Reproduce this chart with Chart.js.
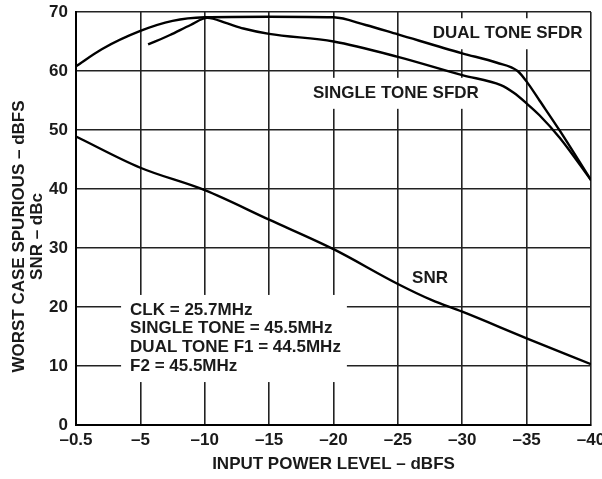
<!DOCTYPE html>
<html>
<head>
<meta charset="utf-8">
<script src="https://cdn.jsdelivr.net/npm/chart.js@4.4.1/dist/chart.umd.min.js"></script>
<style>
  html, body { margin: 0; padding: 0; background: #fff; }
  #wrap { width: 602px; height: 479px; }
</style>
</head>
<body>
<div id="wrap"><canvas id="myChart" width="602" height="479"></canvas></div>
<script>
// x is the input level in dBFS; the left edge of the plot is the -0.5 dBFS point
const xTickLabels = ["–0.5", "–5", "–10", "–15", "–20", "–25", "–30", "–35", "–40"];

const dualToneX = [0, -2, -5, -7.5, -10, -15, -20, -22.5, -25, -30, -32.7, -34.3, -35.1, -36, -37.6, -40];
const dualToneY = [60.8, 63.7, 66.8, 68.5, 69.1, 69.2, 69.1, 67.8, 66.2, 63.0, 61.4, 60.0, 57.9, 55.0, 49.8, 41.5];

const singleToneX = [-5.6, -7.3, -8.9, -10.2, -11.7, -13, -15, -20, -25, -30, -33, -34, -35, -36, -37.6, -40];
const singleToneY = [64.5, 66.1, 67.8, 69.0, 68.1, 67.2, 66.3, 65.0, 62.4, 59.3, 57.6, 56.3, 54.5, 52.5, 48.6, 41.5];

const snrX = [0, -5, -10, -15, -20, -25, -27.6, -30, -35, -40];
const snrY = [48.9, 43.6, 39.8, 34.8, 29.8, 23.9, 21.2, 19.2, 14.7, 10.3];

const yTitle = ["WORST CASE SPURIOUS – dBFS", "SNR – dBc"];
const xTitle = "INPUT POWER LEVEL – dBFS";

// text notes, anchored in data units (left edge of text, middle of first line)
const notes = [
  { x: -4.2, y: 19.5, lines: ["CLK = 25.7MHz", "SINGLE TONE = 45.5MHz", "DUAL TONE F1 = 44.5MHz", "F2 = 45.5MHz"] },
  { x: -27.7, y: 66.4, lines: ["DUAL TONE SFDR"] },
  { x: -18.4, y: 56.3, lines: ["SINGLE TONE SFDR"] },
  { x: -26.1, y: 24.9, lines: ["SNR"] },
];

const pts = (xs, ys) => xs.map((x, i) => ({ x: x, y: ys[i] }));

const FONT = "'Liberation Sans', Arial, Helvetica, sans-serif";
const INK = "#1a1a1a";

Chart.defaults.font.family = FONT;
Chart.defaults.font.weight = "bold";
Chart.defaults.font.size = 17;
Chart.defaults.color = INK;

const curve = (label, data) => ({
  label: label,
  data: data,
  showLine: true,
  borderColor: "#000",
  borderWidth: 2.4,
  pointRadius: 0,
  cubicInterpolationMode: "monotone",
  fill: false,
});

const notesPlugin = {
  id: "notes",
  beforeDatasetsDraw(chart) {
    const { ctx, scales } = chart;
    const lh = 18.7;
    ctx.save();
    ctx.font = "bold 17px " + FONT;
    ctx.textBaseline = "middle";
    ctx.textAlign = "left";
    notes.forEach(n => {
      const px = scales.x.getPixelForValue(n.x);
      const py = scales.y.getPixelForValue(n.y);
      const w = Math.max(...n.lines.map(t => ctx.measureText(t).width));
      const h = (n.lines.length - 1) * lh;
      ctx.fillStyle = "#fff";
      ctx.fillRect(px - 9, py - 15, w + 15, h + 31);
      ctx.fillStyle = INK;
      n.lines.forEach((t, i) => ctx.fillText(t, px, py + i * lh));
    });
    ctx.restore();
  },
  afterDraw(chart) {
    // two-line vertical axis title
    const { ctx, chartArea } = chart;
    ctx.save();
    ctx.font = "bold 17px " + FONT;
    ctx.fillStyle = INK;
    ctx.textAlign = "center";
    ctx.textBaseline = "middle";
    ctx.translate(19, (chartArea.top + chartArea.bottom) / 2 + 18);
    ctx.rotate(-Math.PI / 2);
    yTitle.forEach((t, i) => ctx.fillText(t, 0, i * 18));
    ctx.restore();
  },
};

const config = {
  type: "scatter",
  data: {
    datasets: [
      curve("Dual tone SFDR", pts(dualToneX, dualToneY)),
      curve("Single tone SFDR", pts(singleToneX, singleToneY)),
      curve("SNR", pts(snrX, snrY)),
    ],
  },
  options: {
    responsive: false,
    animation: false,
    layout: { padding: 0 },
    plugins: { legend: { display: false }, tooltip: { enabled: false } },
    scales: {
      x: {
        type: "linear",
        min: -40,
        max: 0,
        reverse: true,
        grid: { color: "#222", lineWidth: 1.6, drawTicks: false },
        border: { color: "#000", width: 2 },
        ticks: {
          stepSize: 5,
          padding: 5,
          maxRotation: 0,
          callback: v => xTickLabels[Math.round(-v / 5)],
        },
        title: { display: true, text: xTitle, padding: { top: 0, bottom: 4 } },
        afterFit(s) {
          s.height = 54;
          s.paddingLeft = 0;
          s.paddingRight = 11;
        },
      },
      y: {
        min: 0,
        max: 70,
        grid: { color: "#222", lineWidth: 1.6, drawTicks: false },
        border: { color: "#000", width: 2 },
        ticks: { stepSize: 10, padding: 8 },
        afterFit(s) {
          s.width = 76;
          s.paddingTop = 12;
          s.paddingBottom = 0;
        },
      },
    },
  },
  plugins: [notesPlugin],
};

const myChart = new Chart(document.getElementById("myChart"), config);
</script>
</body>
</html>
